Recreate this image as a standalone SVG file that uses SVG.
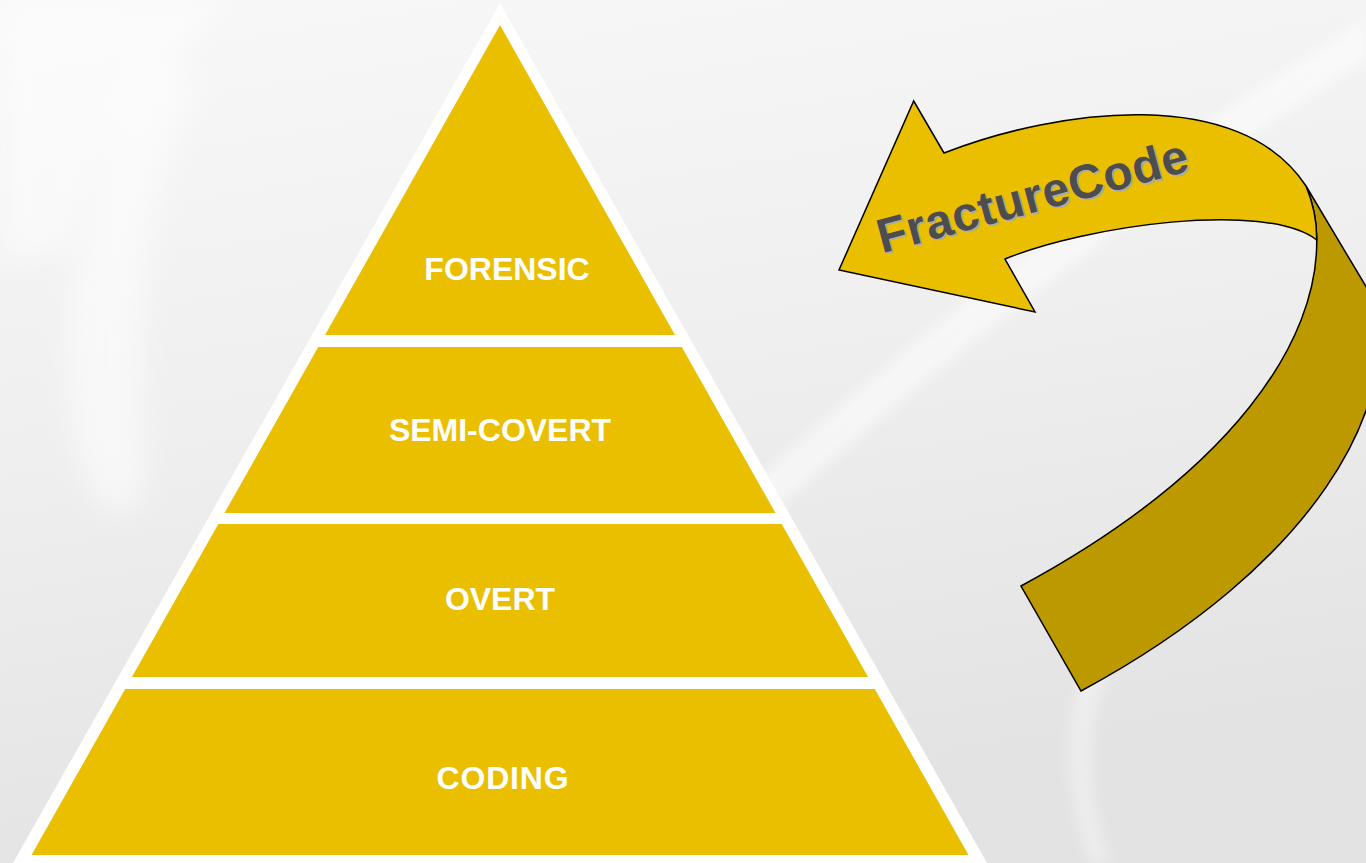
<svg xmlns="http://www.w3.org/2000/svg" width="1366" height="863" viewBox="0 0 1366 863">
  <defs>
    <linearGradient id="bg" x1="0" y1="0" x2="0.25" y2="1">
      <stop offset="0" stop-color="#f8f8f8"/>
      <stop offset="0.5" stop-color="#efefef"/>
      <stop offset="1" stop-color="#e3e3e3"/>
    </linearGradient>
    <filter id="blur" x="-20%" y="-20%" width="140%" height="140%">
      <feGaussianBlur stdDeviation="14"/>
    </filter>
    <filter id="blur2" x="-20%" y="-20%" width="140%" height="140%">
      <feGaussianBlur stdDeviation="6"/>
    </filter>
    <style>
      .lvl { fill: #EABF00; }
      .lbl { font-family: "Liberation Sans", Arial, sans-serif; font-weight: bold; font-size: 32px; fill: #FFFFFF; text-anchor: middle; }
      .arrowTop { fill: #EABF00; stroke: #000000; stroke-width: 1.5; stroke-linejoin: miter; }
      .arrowBack { fill: #BD9900; stroke: #000000; stroke-width: 1.5; stroke-linejoin: miter; }
      .fc { font-family: "Liberation Sans", Arial, sans-serif; font-weight: bold; font-size: 48px; }
    </style>
  </defs>

  <g id="background">
    <rect x="0" y="0" width="1366" height="863" fill="url(#bg)"/>
    <path d="M0,0 L230,0 C150,80 90,160 70,250 L0,260 Z" fill="#ffffff" opacity="0.5" filter="url(#blur)"/>
    <path d="M150,60 C90,160 55,300 75,440 C90,530 150,540 145,450 C135,330 140,200 200,80 Z" fill="#ffffff" opacity="0.55" filter="url(#blur)"/>
    <path d="M1366,20 L1366,60 C1150,200 900,380 640,640 L600,630 C860,370 1120,170 1366,20 Z" fill="#ffffff" opacity="0.5" filter="url(#blur2)"/>
    <path d="M1090,863 C1060,780 1060,700 1100,640 L1120,650 C1085,710 1085,790 1110,863 Z" fill="#ffffff" opacity="0.35" filter="url(#blur2)"/>
  </g>

  <g id="pyramid">
    <polygon id="pyramid-outline" points="500,3 991,870 9,870" fill="#FFFFFF"/>
    <g id="level-forensic">
      <polygon class="lvl" points="500,25 675,335 325,335"/>
      <text class="lbl" x="507" y="280">FORENSIC</text>
    </g>
    <g id="level-semi-covert">
      <polygon class="lvl" points="318.2,347 681.8,347 775.5,513 224.5,513"/>
      <text class="lbl" x="500" y="440.5">SEMI-COVERT</text>
    </g>
    <g id="level-overt">
      <polygon class="lvl" points="218.3,524 781.7,524 868.1,677 131.9,677"/>
      <text class="lbl" x="500" y="610">OVERT</text>
    </g>
    <g id="level-coding">
      <polygon class="lvl" points="125.2,689 874.8,689 968.5,855 31.5,855"/>
      <text class="lbl" x="503" y="789" letter-spacing="0.8">CODING</text>
    </g>
  </g>

  <g id="connectors">
    <g id="fracturecode-arrow">
      <path class="arrowBack" d="M1306,186 L1374,300 C1402,405 1315,565 1081,691 L1021,586 C1235,470 1318,340 1316.7,240 C1317,215 1311,198 1306,186 Z"/>
      <path class="arrowTop" d="M944,153 L913.7,101 L839,270 L1035,312 L1005,259 C1085,226 1265,200 1316.7,240 C1317,215 1311,198 1306,186 C1240,85 1060,108 944,153 Z"/>
      <text class="fc" fill="#ABABAB" transform="translate(883.6,254.8) rotate(-15)" x="0" y="0" textLength="320" lengthAdjust="spacing">FractureCode</text>
      <text class="fc" fill="#4D4D4D" transform="translate(882,253.2) rotate(-15)" x="0" y="0" textLength="320" lengthAdjust="spacing">FractureCode</text>
    </g>
  </g>
</svg>
